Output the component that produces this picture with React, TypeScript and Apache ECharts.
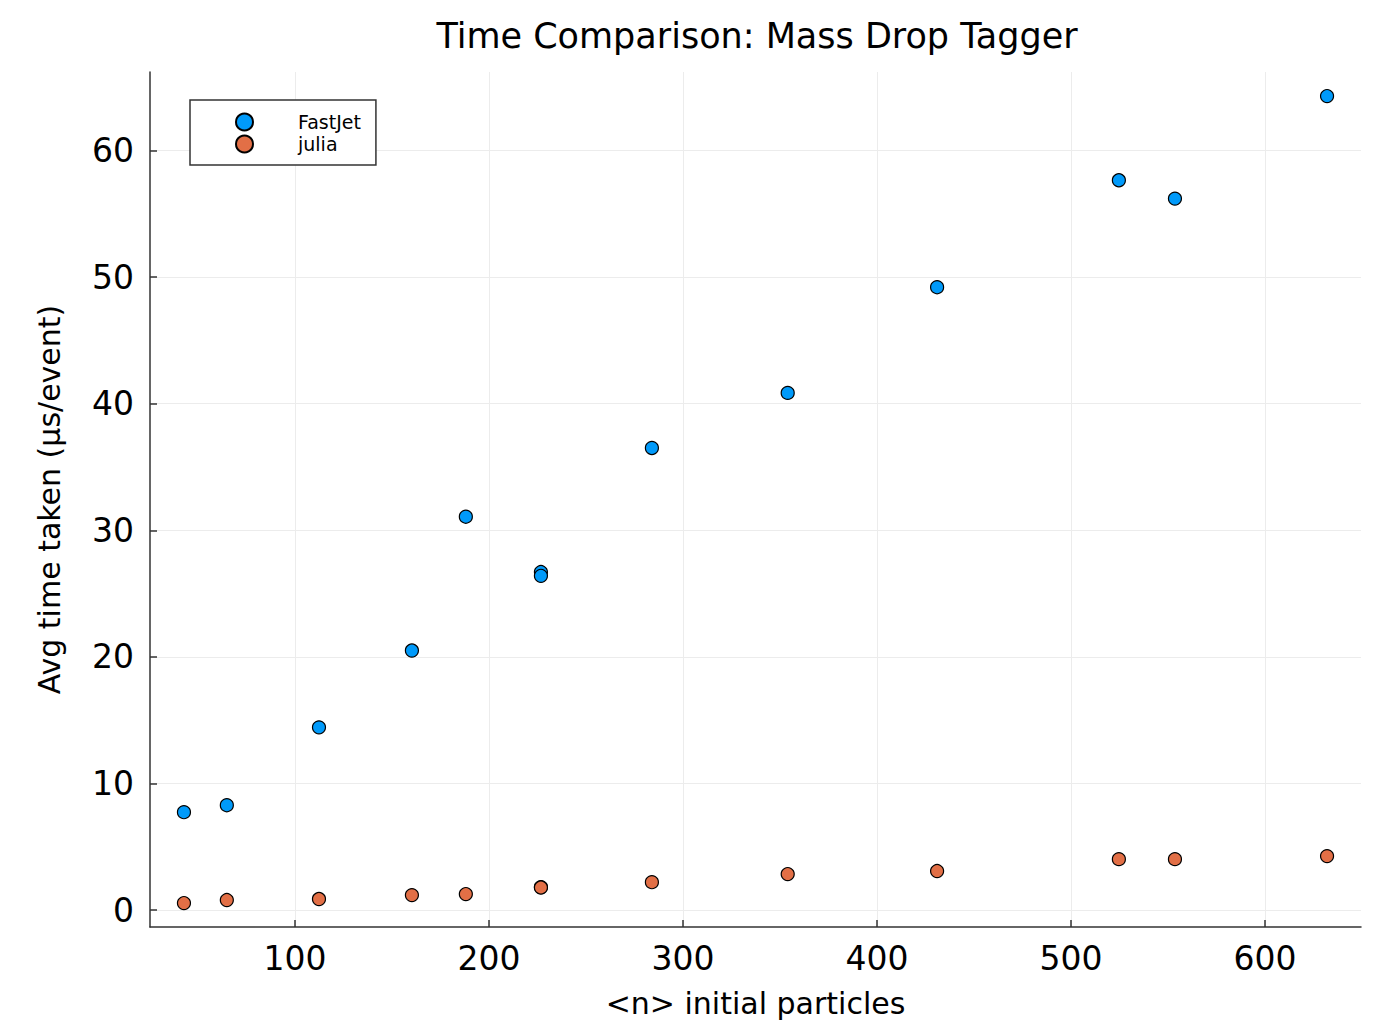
import React, { useEffect, useRef } from "react";
import * as echarts from "echarts";

const particles = [42.8, 64.9, 112.4, 160.3, 188.1, 226.8, 226.8, 284, 354, 431, 524.7, 553.6, 632];
const fastjetTimes = [7.73, 8.28, 14.43, 20.5, 31.07, 26.7, 26.4, 36.5, 40.85, 49.2, 57.65, 56.2, 64.3];
const juliaTimes = [0.55, 0.79, 0.87, 1.18, 1.26, 1.81, 1.78, 2.2, 2.84, 3.08, 4.02, 4.02, 4.26];
const xTicks = [100, 200, 300, 400, 500, 600];
const yTicks = [0, 10, 20, 30, 40, 50, 60];

const FONT = "DejaVu Sans";

export default function App() {
  const ref = useRef<HTMLDivElement>(null);
  useEffect(() => {
    if (!ref.current) return;
    const chart = echarts.init(ref.current, null, { renderer: "svg" });
    const axisColor = "#333";
    chart.setOption({
      animation: false,
      backgroundColor: "#fff",
      textStyle: { fontFamily: FONT },
      title: {
        text: "Time Comparison: Mass Drop Tagger",
        left: 752,
        top: 13,
        textAlign: "center",
        textStyle: { fontFamily: FONT, fontSize: 35, fontWeight: "normal", color: "#000" },
      },
      legend: {
        orient: "vertical",
        left: 190,
        top: 100,
        itemWidth: 17,
        itemHeight: 17,
        itemGap: 0,
        padding: [11, 15, 10, 45],
        borderColor: "#333",
        borderWidth: 1.5,
        borderRadius: 0,
        backgroundColor: "#fff",
        textStyle: { fontFamily: FONT, fontSize: 19, lineHeight: 22, color: "#000", padding: [0, 0, 0, 40] },
        data: [
          { name: "FastJet", icon: "circle" },
          { name: "julia", icon: "circle" },
        ],
      },
      grid: { left: 150, right: 22, top: 72, bottom: 93, containLabel: false },
      xAxis: {
        type: "value",
        min: 25.3,
        max: 649.5,
        name: "<n> initial particles",
        nameLocation: "middle",
        nameGap: 61,
        nameTextStyle: { fontFamily: FONT, fontSize: 30, color: "#000" },
        axisLine: { show: true, onZero: false, lineStyle: { color: axisColor, width: 1.5 } },
        axisTick: { show: true, inside: true, length: 7, customValues: xTicks, lineStyle: { color: axisColor, width: 1.5 } },
        axisLabel: { customValues: xTicks, fontFamily: FONT, fontSize: 33, color: "#000", margin: 15 },
        splitLine: { show: true, lineStyle: { color: "#ececec", width: 1 } },
      },
      yAxis: {
        type: "value",
        min: -1.34,
        max: 66.2,
        name: "Avg time taken (μs/event)",
        nameLocation: "middle",
        nameGap: 86,
        nameTextStyle: { fontFamily: FONT, fontSize: 30, color: "#000" },
        axisLine: { show: true, onZero: false, lineStyle: { color: axisColor, width: 1.5 } },
        axisTick: { show: true, inside: true, length: 7, customValues: yTicks, lineStyle: { color: axisColor, width: 1.5 } },
        axisLabel: { customValues: yTicks, fontFamily: FONT, fontSize: 33, color: "#000", margin: 16 },
        splitLine: { show: true, lineStyle: { color: "#ececec", width: 1 } },
      },
      series: [
        {
          name: "FastJet",
          type: "scatter",
          symbol: "circle",
          symbolSize: 13,
          itemStyle: { color: "#009AFA", borderColor: "#000", borderWidth: 1.2, opacity: 1 },
          data: particles.map((x, i) => [x, fastjetTimes[i]]),
        },
        {
          name: "julia",
          type: "scatter",
          symbol: "circle",
          symbolSize: 13,
          itemStyle: { color: "#E26F46", borderColor: "#000", borderWidth: 1.2, opacity: 1 },
          data: particles.map((x, i) => [x, juliaTimes[i]]),
        },
      ],
    });
    return () => chart.dispose();
  }, []);
  return (
    <div
      ref={ref}
      style={{ position: "fixed", left: 0, top: 0, width: 1383, height: 1023 }}
    />
  );
}
